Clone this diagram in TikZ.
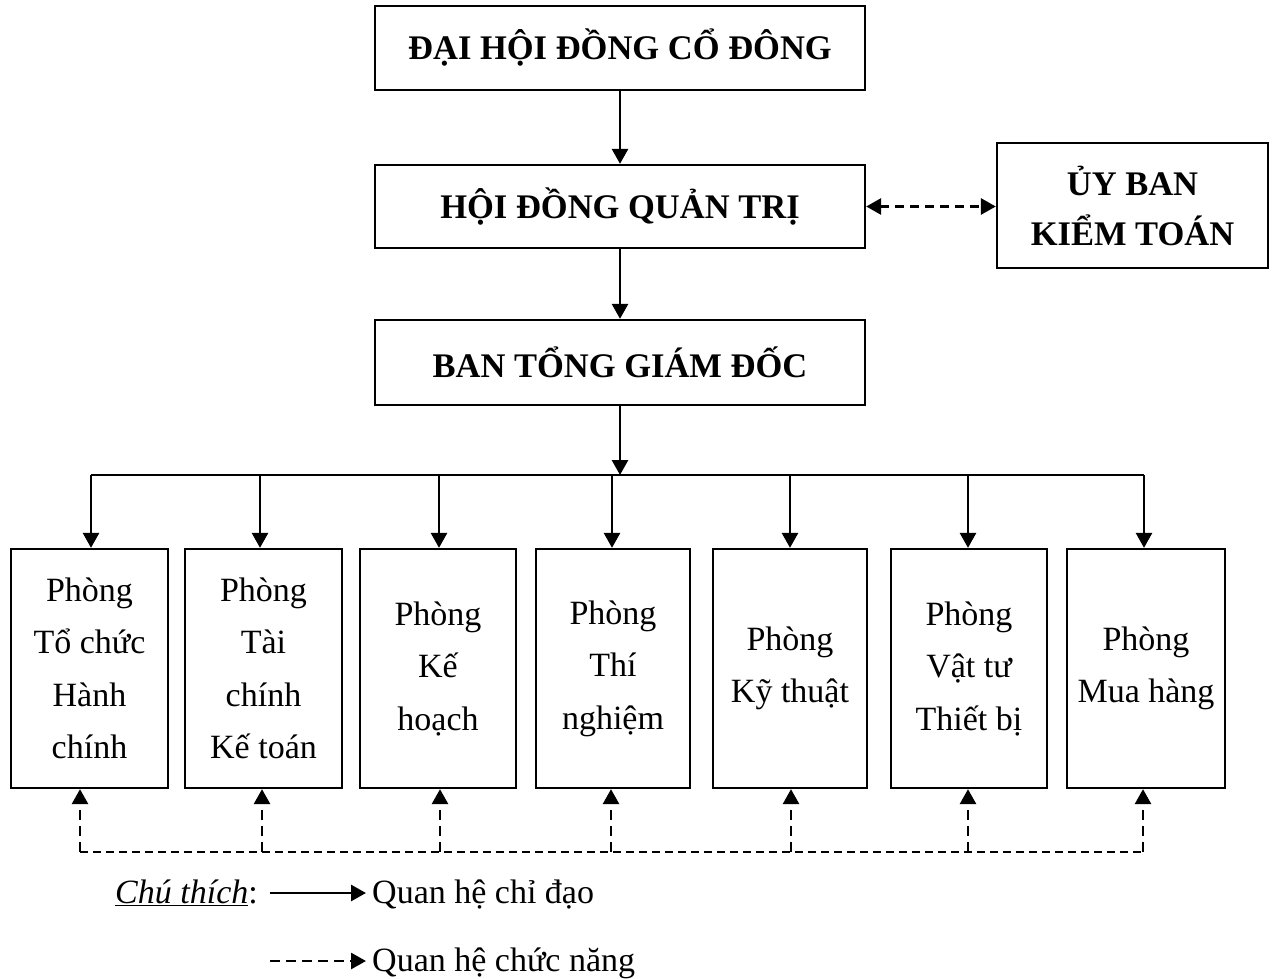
\documentclass[tikz,border=0pt]{standalone}
\usepackage{fontspec}
\setmainfont{Liberation Serif}
\usetikzlibrary{arrows.meta}
\begin{document}
\begin{tikzpicture}[x=1pt,y=-1pt,
  box/.style={draw, line width=2.3pt, align=center, inner sep=0pt},
  title/.style={box, font=\fontsize{34.5}{50}\selectfont\bfseries},
  dept/.style={box, minimum height=239pt, font=\fontsize{34}{52.5}\selectfont},
  txt/.style={inner sep=0pt, font=\fontsize{34}{40}\selectfont},
  conn/.style={line width=2.8pt},
  hconn/.style={line width=2pt},
  tip/.style={-{Triangle[length=15pt,width=16pt]}},
  arr/.style={conn, tip},
  darr/.style={conn, tip, dash pattern=on 10pt off 6pt},
  ddarr/.style={conn, {Triangle[length=15pt,width=16pt]}-{Triangle[length=15pt,width=16pt]}, dash pattern=on 9pt off 6pt},
  dline/.style={hconn, dash pattern=on 8pt off 5pt}]
\useasboundingbox (0,0) rectangle (1280,979);

% top boxes
\node[title, minimum width=490pt, minimum height=84pt] (dh) at (620,48) {ĐẠI HỘI ĐỒNG CỔ ĐÔNG};
\node[title, minimum width=490pt, minimum height=83pt] (hd) at (620,206.5) {HỘI ĐỒNG QUẢN TRỊ};
\node[title, minimum width=271pt, minimum height=125pt] (ub) at (1132.5,205.5) {ỦY BAN\\KIỂM TOÁN};
\node[title, minimum width=490pt, minimum height=85pt] (bt) at (620,362.5) {BAN TỔNG GIÁM ĐỐC};

\draw[arr] (dh) -- (hd);
\draw[arr] (hd) -- (bt);
\draw[ddarr] (hd.east) -- (ub.west |- hd.east);

% departments
\node[dept, minimum width=157pt] (d1) at (89.5,668.5) {Phòng\\Tổ chức\\Hành\\chính};
\node[dept, minimum width=157pt] (d2) at (263.5,668.5) {Phòng\\Tài\\chính\\Kế toán};
\node[dept, minimum width=156pt] (d3) at (438,668.5) {Phòng\\Kế\\hoạch};
\node[dept, minimum width=154pt] (d4) at (613,668.5) {Phòng\\Thí\\nghiệm};
\node[dept, minimum width=154pt] (d5) at (790,668.5) {Phòng\\Kỹ thuật};
\node[dept, minimum width=156pt] (d6) at (969,668.5) {Phòng\\Vật tư\\Thiết bị};
\node[dept, minimum width=158pt] (d7) at (1146,668.5) {Phòng\\Mua hàng};

% bus
\coordinate (bus) at (620,475);
\coordinate (b1) at (91,475);
\coordinate (b2) at (260,475);
\coordinate (b3) at (439,475);
\coordinate (b4) at (612,475);
\coordinate (b5) at (790,475);
\coordinate (b6) at (968,475);
\coordinate (b7) at (1144,475);
\draw[arr] (bt) -- (bt.south |- bus);
\draw[hconn] (b1) -- (b7);
\foreach \i in {1,...,7} {\draw[arr] (b\i) -- (b\i |- d\i.north);}

% functional links
\coordinate (f1) at (80,852);
\coordinate (f2) at (262,852);
\coordinate (f3) at (440,852);
\coordinate (f4) at (611,852);
\coordinate (f5) at (791,852);
\coordinate (f6) at (968,852);
\coordinate (f7) at (1143,852);
\draw[dline] (f1) -- (f7);
\foreach \i in {1,...,7} {\draw[darr] (f\i) -- (f\i |- d\i.south);}

% legend
\node[txt, anchor=base east] (ct) at (258,903) {\underline{\textit{Chú thích}}:};
\coordinate (la) at (270,893);
\coordinate (lb) at (366,893);
\draw[arr] (la) -- (lb);
\node[txt, anchor=base west] (l1) at (372,903) {Quan hệ chỉ đạo};
\coordinate (ma) at (270,961);
\coordinate (mb) at (366,961);
\draw[darr] (ma) -- (mb);
\node[txt, anchor=base west] (l2) at (372,971) {Quan hệ chức năng};
\end{tikzpicture}
\end{document}
